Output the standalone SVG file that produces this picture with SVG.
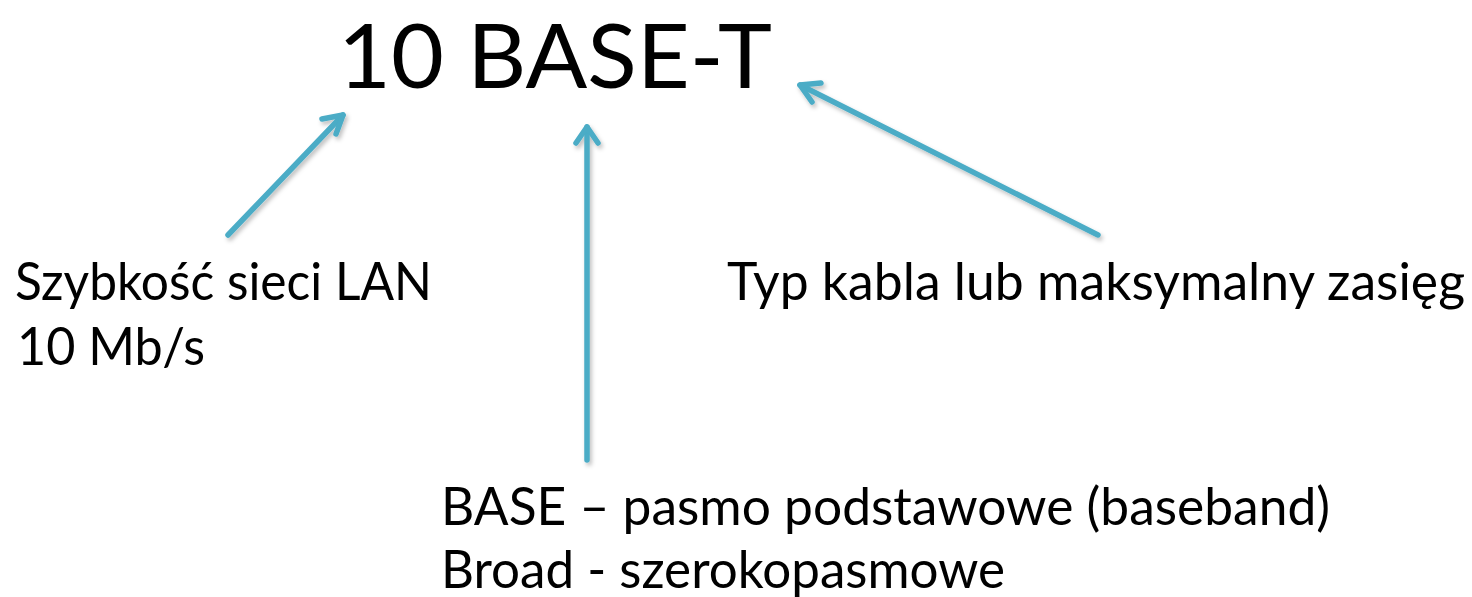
<svg xmlns="http://www.w3.org/2000/svg" width="1472" height="597" viewBox="0 0 1472 597">
  <style>
    .t { font-family: Lato, "Open Sans", "Liberation Sans", sans-serif; fill: #000; }
    .lbl { font-size: 52px; }
    .title { font-size: 89px; }
    .arr { stroke: #4BACC6; stroke-width: 5.5; fill: none; stroke-linecap: round; stroke-linejoin: round; }
  </style>
  <defs>
    <filter id="shadow" x="-20%" y="-20%" width="140%" height="140%">
      <feDropShadow dx="2" dy="3" stdDeviation="2" flood-color="#000" flood-opacity="0.25"/>
    </filter>
  </defs>
  <rect width="1472" height="597" fill="#fff"/>

  <g id="title">
    <text class="t title" x="338" y="88" textLength="434" lengthAdjust="spacingAndGlyphs">10 BASE-T</text>
  </g>
  <g id="speed">
    <text class="t lbl" x="15" y="300" textLength="417" lengthAdjust="spacingAndGlyphs">Szybkość sieci LAN</text>
    <text class="t lbl" x="17" y="365" textLength="188" lengthAdjust="spacingAndGlyphs">10 Mb/s</text>
  </g>
  <g id="cable">
    <text class="t lbl" x="727" y="300" textLength="738" lengthAdjust="spacingAndGlyphs">Typ kabla lub maksymalny zasięg</text>
  </g>
  <g id="band">
    <text class="t lbl" x="441" y="525" textLength="889" lengthAdjust="spacingAndGlyphs">BASE – pasmo podstawowe (baseband)</text>
    <text class="t lbl" x="441" y="588" textLength="564" lengthAdjust="spacingAndGlyphs">Broad - szerokopasmowe</text>
  </g>

  <g id="connectors" filter="url(#shadow)">
    <!-- speed -> "10" -->
    <path class="arr" d="M228,235 L343,115"/>
    <path class="arr" d="M322,119 L343,115 L336,134"/>
    <!-- band -> "BASE" -->
    <path class="arr" d="M587,460 L587,127"/>
    <path class="arr" d="M576,143 L587,127 L598,143"/>
    <!-- cable -> "T" -->
    <path class="arr" d="M1098,235 L800,85"/>
    <path class="arr" d="M812,102 L800,85 L821,83"/>
  </g>
</svg>
